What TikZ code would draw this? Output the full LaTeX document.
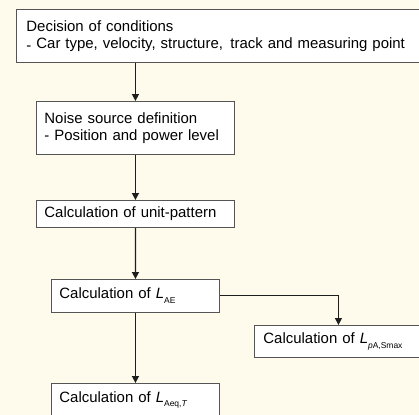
\documentclass[tikz,border=0pt]{standalone}
\usepackage{fontspec}
\setmainfont{Liberation Sans}
\usetikzlibrary{arrows.meta}
\definecolor{bgcream}{RGB}{255,251,236}
\definecolor{boxline}{RGB}{85,85,85}
\definecolor{arrowcol}{RGB}{30,30,30}
\newcommand{\subsc}[1]{\raisebox{-0.32em}{\fontsize{8.5}{9}\selectfont #1}}
\tikzset{
  stepbox/.style={draw=boxline, line width=0.9bp, fill=white, rectangle,
    anchor=north west, align=left, inner ysep=0pt,
    font=\fontsize{15}{17}\selectfont},
  flowarrow/.style={draw=arrowcol, line width=1.4bp,
    -{Triangle[length=7bp,width=7bp]}},
}
\begin{document}
\begin{tikzpicture}[x=1bp,y=-1bp]
\useasboundingbox (0,0) rectangle (419,415);
\fill[bgcream] (0,0) rectangle (419,415);
\clip (0,0) rectangle (419,415);
\node[stepbox, inner xsep=10bp, text width=384bp, minimum height=53bp] (b1) at (16,9)
  {Decision of conditions\\\raisebox{-2.5bp}{-} Car type, velocity, structure, \,track and measuring point};
\node[stepbox, inner xsep=8bp, text width=182bp, minimum height=53bp] (b2) at (36,101)
  {Noise source definition\\- Position and power level};
\node[stepbox, inner xsep=8bp, text width=182bp, minimum height=27bp] (b3) at (36,200)
  {Calculation of unit-pattern};
\node[stepbox, inner xsep=8bp, text width=152bp, minimum height=33bp] (b4) at (51,279)
  {Calculation of \textit{L}\subsc{AE}};
\node[stepbox, inner xsep=9bp, text width=150bp, minimum height=32bp] (b5) at (254,325)
  {Calculation of \textit{L}\subsc{\textit{p}A,Smax}};
\node[stepbox, inner xsep=8bp, text width=152bp, minimum height=33bp] (b6) at (51,383)
  {Calculation of \textit{L}\subsc{Aeq,\textit{T}}};
\draw[flowarrow] (b2.north |- b1.south) -- (b2.north);
\draw[flowarrow] (b2.south) -- (b3.north);
\draw[flowarrow] (b3.south) -- (b4.north);
\draw[flowarrow] (b4.south) -- (b6.north);
\draw[flowarrow, line width=1bp] (b4.east) -| (b5.north);
\end{tikzpicture}
\end{document}
